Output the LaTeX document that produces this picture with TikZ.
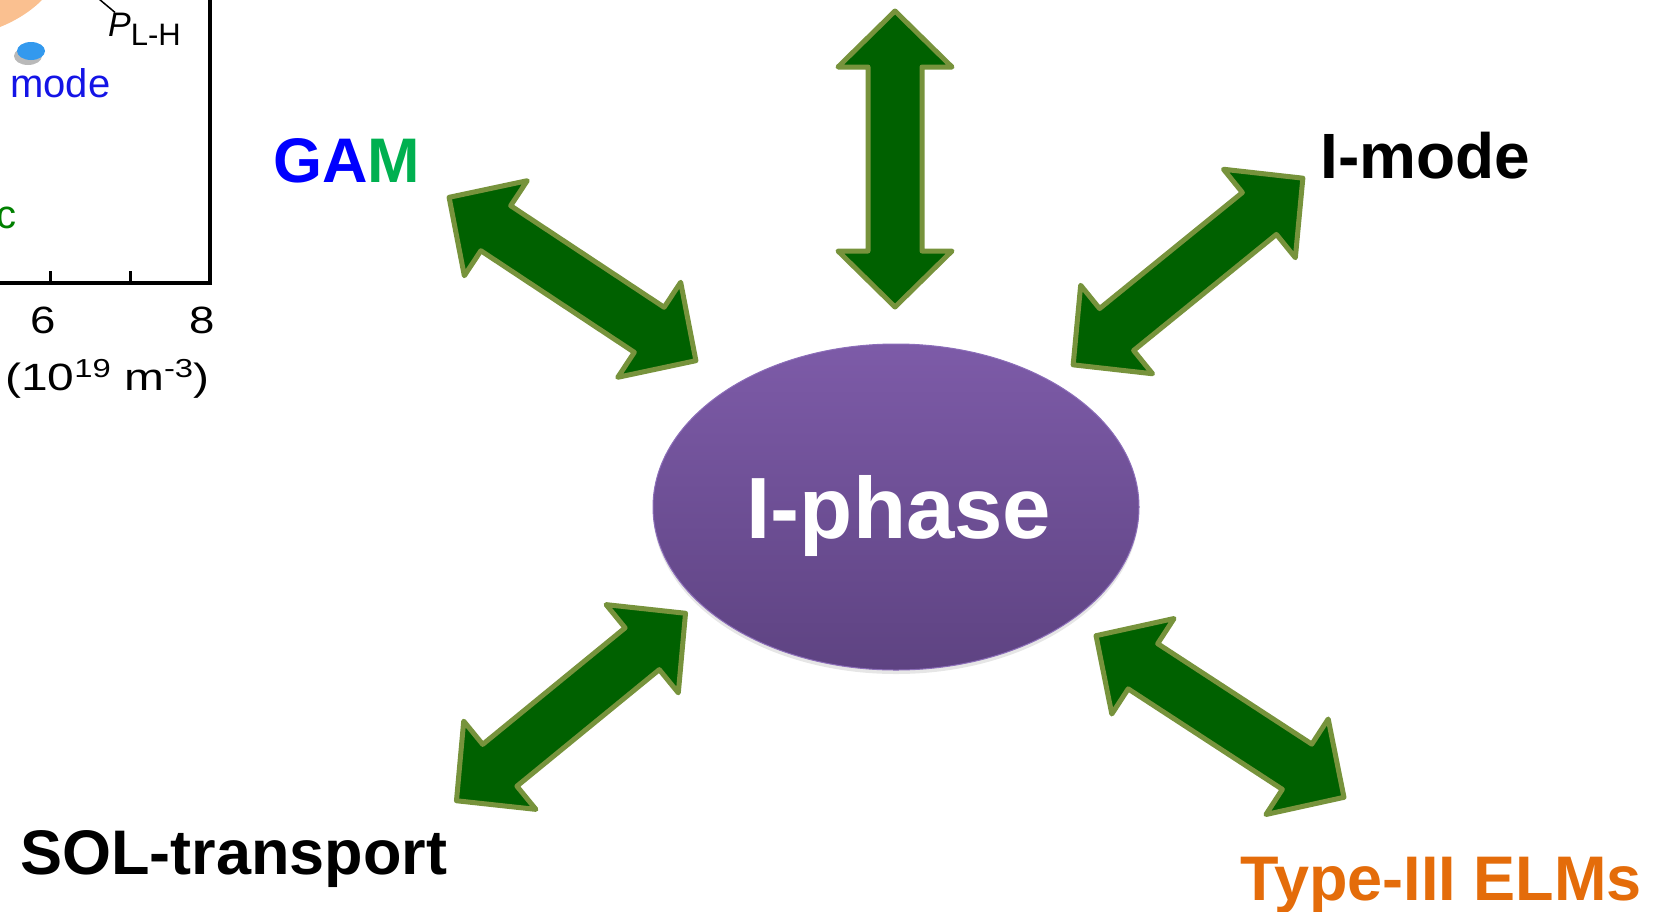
\documentclass[tikz,border=0pt]{standalone}
\usepackage{fontspec}
\setmainfont{Liberation Sans}
\usetikzlibrary{shapes.geometric,shadows}
\definecolor{arrowfill}{RGB}{0,97,0}
\definecolor{arrowedge}{RGB}{119,147,60}
\definecolor{phasetop}{RGB}{125,91,168}
\definecolor{phasebottom}{RGB}{94,67,130}
\definecolor{phaseedge}{RGB}{140,110,185}
\definecolor{gamblue}{RGB}{0,0,255}
\definecolor{gamgreen}{RGB}{0,176,80}
\definecolor{elmorange}{RGB}{228,108,10}
\definecolor{blobpeach}{RGB}{250,192,144}
\definecolor{dotblue}{RGB}{51,153,238}
\definecolor{modeblue}{RGB}{20,20,230}
\definecolor{cgreen}{RGB}{0,128,0}

\begin{document}
\begin{tikzpicture}[x=1pt, y=-1pt,
		sidelabel/.style={anchor=base west, inner sep=0pt, font=\fontsize{63}{70}\selectfont\bfseries},
		axislabel/.style={inner sep=0pt, font=\fontsize{38}{42}\selectfont}]
		
		\useasboundingbox (0,0) rectangle (1654,911);
		
		% --- DOPPELPFEIL ---
		\newcommand{\dblarrow}[3]{ % #1:x, #2:y, #3:Winkel
			\draw[fill=arrowfill, draw=arrowedge, line width=5pt, line join=round, shift={(#1,#2)}, rotate=#3]
				(-148,0) -- (-92,-57) -- (-92,-27) -- (92,-27) -- (92,-57) -- (148,0)
				-- (92,57) -- (92,27) -- (-92,27) -- (-92,57) -- cycle;
		}
		\newcommand{\hochzahl}[1]{\raisebox{13pt}{\fontsize{26}{28}\selectfont #1}}
		
		% --- DIAGRAMMRESTE LINKS OBEN ---
		\fill[blobpeach] (0,0) -- (42,0) .. controls (30,12) and (15,21) .. (0,27) -- cycle;
		\coordinate (plhfoot) at (99,-1);
		\node[anchor=base west, inner sep=0pt, font=\fontsize{34}{36}\selectfont] (plh) at (108,36) {\textit{P}\raisebox{-9pt}{\fontsize{31}{32}\selectfont L-H}};
		\draw[line width=1.5pt] (plhfoot) -- ([xshift=7pt]plh.north west);
		\fill[gray!55] (28,56) ellipse [x radius=14pt, y radius=9pt];
		\fill[dotblue] (31,51) ellipse [x radius=14pt, y radius=9pt];
		\node[anchor=base west, inner sep=0pt, text=modeblue, font=\fontsize{40}{44}\selectfont] (mode) at (10,97) {mode};
		\node[anchor=base east, inner sep=0pt, text=cgreen, font=\fontsize{40}{44}\selectfont] (cfrag) at (17,228) {c};
		\draw[line width=4pt] (-5,283) -- (210,283) -- (210,-5);
		\foreach \tx in {50,130}
			\draw[line width=3pt] (\tx,283) -- (\tx,271);
		\node[axislabel, anchor=base] (tsix) at (43,333) {\scalebox{1.2}[1]{6}};
		\node[axislabel, anchor=base] (teight) at (202,333) {\scalebox{1.2}[1]{8}};
		\node[axislabel, anchor=base west] (unit) at (5,390) {\scalebox{1.26}[1]{(10\hochzahl{19} m\hochzahl{-3})}};
		
		% --- PFEILE ---
		\dblarrow{572.5}{279}{-33.5}
		\dblarrow{895}{159}{90}
		\dblarrow{1188}{271.5}{39.1}
		\dblarrow{571}{707}{39.3}
		\dblarrow{1220}{716.5}{-33.1}
		
		% --- ZENTRUM ---
		\node[ellipse, minimum width=486pt, minimum height=326pt, top color=phasetop, bottom color=phasebottom,
			draw=phaseedge, line width=1pt, drop shadow={shadow xshift=0pt, shadow yshift=-4pt, opacity=0.2},
			text=white, text depth=0pt, font=\fontsize{87}{90}\selectfont\bfseries] (iphase) at (896,507) {\hspace{6pt}I-phase};
		
		% --- BESCHRIFTUNGEN ---
		\node[sidelabel] (gam) at (273,182) {\textcolor{gamblue}{GA}\textcolor{gamgreen}{M}};
		\node[sidelabel, font=\fontsize{64}{70}\selectfont\bfseries] (imode) at (1320,178) {I-mode};
		\node[sidelabel] (sol) at (20,874) {SOL-transport};
		\node[sidelabel, text=elmorange] (elms) at (1240,900) {Type-III ELMs};
		
	\end{tikzpicture}
\end{document}
